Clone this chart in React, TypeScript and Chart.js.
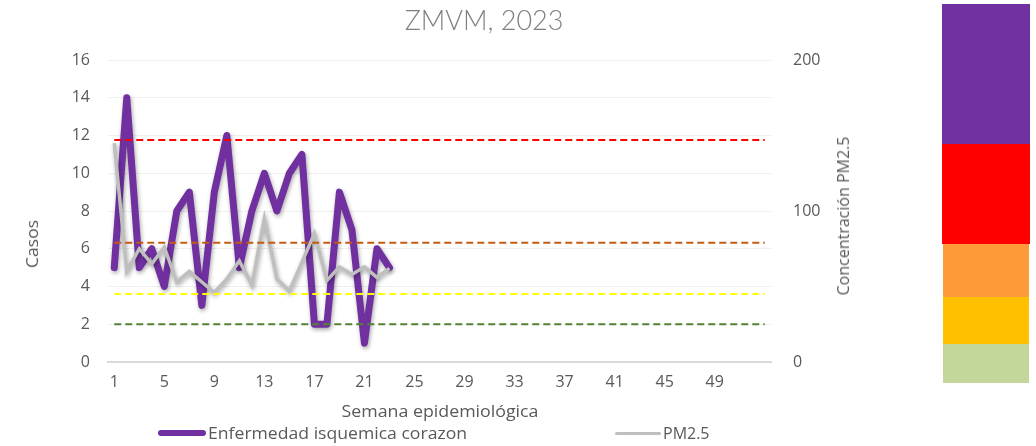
import React, { useEffect, useRef } from 'react';
import { Chart, registerables } from 'chart.js';

Chart.register(...registerables);

const WEEKS = [
  '1', '2', '3', '4', '5', '6', '7', '8', '9', '10', '11', '12', '13', '14', '15', '16', '17', '18',
  '19', '20', '21', '22', '23', '24', '25', '26', '27', '28', '29', '30', '31', '32', '33', '34', '35',
  '36', '37', '38', '39', '40', '41', '42', '43', '44', '45', '46', '47', '48', '49', '50', '51', '52', '53',
];

const CASOS = [5, 14, 5, 6, 4, 8, 9, 3, 9, 12, 5, 8, 10, 8, 10, 11, 2, 2, 9, 7, 1, 6, 5];
const PM25 = [145, 60, 75, 65, 76, 53, 60, 53, 46, 55, 67, 51, 95, 55, 47, 66, 85, 54, 63, 58, 63, 56, 62];

const THRESHOLDS = [147, 79, 45, 25];
const THRESHOLD_COLORS = ['#FF0000', '#C55A11', '#FFFF00', '#548235'];

const LEVEL_COLORS = ['#7030A0', '#FF0000', '#FF9A38', '#FFC000', '#C4D79B'];

const FONT = '"Open Sans", sans-serif';
const TEXT = '#595959';

const shadowPlugin = {
  id: 'lineShadow',
  beforeDatasetDraw(chart: any, args: any) {
    const ds = chart.data.datasets[args.index];
    if (!ds._shadow) return;
    const ctx = chart.ctx;
    ctx.save();
    ctx.shadowColor = 'rgba(0,0,0,0.35)';
    ctx.shadowBlur = 4;
    ctx.shadowOffsetX = 1;
    ctx.shadowOffsetY = 2;
  },
  afterDatasetDraw(chart: any, args: any) {
    const ds = chart.data.datasets[args.index];
    if (!ds._shadow) return;
    chart.ctx.restore();
  },
};

export default function App() {
  const ref = useRef<HTMLCanvasElement | null>(null);

  useEffect(() => {
    if (!ref.current) return;
    const thresholdSets = THRESHOLDS.map((v, i) => ({
      label: 't' + i,
      data: [
        { x: WEEKS[0], y: v },
        { x: WEEKS[WEEKS.length - 1], y: v },
      ],
      yAxisID: 'y1',
      borderColor: THRESHOLD_COLORS[i],
      borderWidth: 2,
      borderDash: [7, 4],
      pointRadius: 0,
      fill: false,
      order: 0,
    }));
    const chart = new Chart(ref.current, {
      type: 'line',
      data: {
        labels: WEEKS,
        datasets: [
          ...thresholdSets,
          {
            label: 'PM2.5',
            data: PM25,
            yAxisID: 'y1',
            borderColor: '#BFBFBF',
            borderWidth: 3.5,
            pointRadius: 0,
            tension: 0,
            order: 1,
            _shadow: true,
          } as any,
          {
            label: 'Enfermedad isquemica corazon',
            data: CASOS,
            yAxisID: 'y',
            borderColor: '#7030A0',
            borderWidth: 7,
            pointRadius: 0,
            tension: 0,
            borderJoinStyle: 'round',
            borderCapStyle: 'round',
            order: 2,
            _shadow: true,
          } as any,
        ],
      },
      options: {
        responsive: false,
        maintainAspectRatio: false,
        animation: false,
        layout: { padding: { top: 60, left: 0, right: 0, bottom: 0 } },
        plugins: {
          legend: { display: false },
          title: { display: false },
          tooltip: { enabled: false },
        },
        scales: {
          x: {
            type: 'category',
            offset: true,
            grid: { display: false, drawTicks: false, tickLength: 0 },
            border: { display: true, color: '#D9D9D9', width: 2 },
            ticks: {
              autoSkip: false,
              maxRotation: 0,
              padding: 11,
              color: TEXT,
              font: { family: FONT, size: 16 },
              callback: (_v: any, i: number) => (i % 4 === 0 && i < 52 ? WEEKS[i] : ''),
            },
            afterFit: (s: any) => {
              s.height = 84;
            },
          },
          y: {
            position: 'left',
            min: 0,
            max: 16,
            ticks: { stepSize: 2, padding: 18, color: TEXT, font: { family: FONT, size: 16 } },
            grid: { color: '#EFEFEF', lineWidth: 1, drawTicks: false, tickLength: 0 },
            border: { display: false },
            afterFit: (s: any) => {
              s.width = 108;
            },
          },
          y1: {
            position: 'right',
            min: 0,
            max: 200,
            ticks: { stepSize: 100, padding: 22, color: TEXT, font: { family: FONT, size: 16 } },
            grid: { display: false, drawTicks: false, tickLength: 0 },
            border: { display: false },
            afterFit: (s: any) => {
              s.width = 265;
            },
          },
        },
      },
      plugins: [shadowPlugin],
    });
    return () => chart.destroy();
  }, []);

  const abs = (extra: React.CSSProperties): React.CSSProperties => ({ position: 'absolute', ...extra });

  return (
    <div
      style={{
        position: 'fixed',
        left: 0,
        top: 0,
        width: 1036,
        height: 446,
        background: '#fff',
        overflow: 'hidden',
        fontFamily: FONT,
        color: TEXT,
      }}
    >
      <canvas ref={ref} width={1036} height={446} style={abs({ left: 0, top: 0, width: 1036, height: 446 })} />
      <div
        style={abs({
          left: 484,
          top: 19,
          transform: 'translate(-50%,-50%)',
          fontFamily: 'Lato, "Open Sans", sans-serif',
          fontWeight: 300,
          fontSize: 27,
          color: '#7F7F7F',
          whiteSpace: 'nowrap',
          lineHeight: 1,
        })}
      >
        ZMVM, 2023
      </div>
      <div
        style={abs({
          left: 32,
          top: 244,
          transform: 'translate(-50%,-50%) rotate(-90deg) scaleX(1.1)',
          fontSize: 16,
          whiteSpace: 'nowrap',
          lineHeight: 1,
        })}
      >
        Casos
      </div>
      <div
        style={abs({
          left: 843,
          top: 216,
          transform: 'translate(-50%,-50%) rotate(-90deg)',
          fontSize: 16,
          whiteSpace: 'nowrap',
          lineHeight: 1,
        })}
      >
        Concentración PM2.5
      </div>
      <div
        style={abs({
          left: 440,
          top: 411,
          transform: 'translate(-50%,-50%) scaleX(1.11)',
          fontSize: 16,
          whiteSpace: 'nowrap',
          lineHeight: 1,
        })}
      >
        Semana epidemiológica
      </div>
      <div style={abs({ left: 158, top: 430, width: 48, height: 6, borderRadius: 3, background: '#7030A0' })} />
      <div
        style={abs({
          left: 208,
          top: 433,
          transform: 'translateY(-50%) scaleX(1.1)',
          transformOrigin: 'left center',
          fontSize: 16,
          whiteSpace: 'nowrap',
          lineHeight: 1,
        })}
      >
        Enfermedad isquemica corazon
      </div>
      <div style={abs({ left: 615, top: 432, width: 46, height: 3, borderRadius: 2, background: '#BFBFBF' })} />
      <div
        style={abs({
          left: 663,
          top: 433,
          transform: 'translateY(-50%)',
          fontSize: 16,
          whiteSpace: 'nowrap',
          lineHeight: 1,
        })}
      >
        PM2.5
      </div>
      <div style={abs({ left: 942, top: 4, width: 88, height: 140, background: LEVEL_COLORS[0] })} />
      <div style={abs({ left: 942, top: 144, width: 88, height: 100, background: LEVEL_COLORS[1] })} />
      <div style={abs({ left: 943, top: 244, width: 86, height: 53, background: LEVEL_COLORS[2] })} />
      <div style={abs({ left: 943, top: 297, width: 86, height: 47, background: LEVEL_COLORS[3] })} />
      <div style={abs({ left: 943, top: 344, width: 86, height: 39, background: LEVEL_COLORS[4] })} />
    </div>
  );
}
